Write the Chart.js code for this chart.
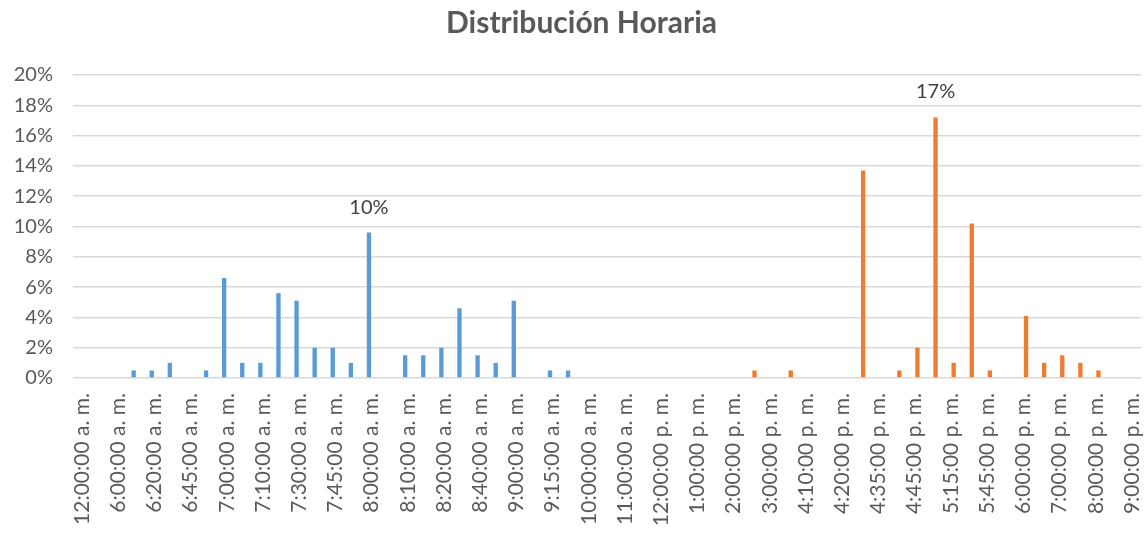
<!DOCTYPE html>
<html>
<head>
<meta charset="utf-8">
<script src="https://cdn.jsdelivr.net/npm/chart.js@4"></script>
<style>
  body { margin: 0; background: #fff; }
</style>
</head>
<body>
<canvas id="grafico" width="1147" height="533"></canvas>
<script>
// horas (categorias); solo las pares se muestran en el eje
const horas = [
  "12:00:00 a. m.", "5:30:00 a. m.", "6:00:00 a. m.", "6:10:00 a. m.", "6:20:00 a. m.",
  "6:30:00 a. m.", "6:45:00 a. m.", "6:50:00 a. m.", "7:00:00 a. m.", "7:05:00 a. m.",
  "7:10:00 a. m.", "7:20:00 a. m.", "7:30:00 a. m.", "7:40:00 a. m.", "7:45:00 a. m.",
  "7:50:00 a. m.", "8:00:00 a. m.", "8:05:00 a. m.", "8:10:00 a. m.", "8:15:00 a. m.",
  "8:20:00 a. m.", "8:30:00 a. m.", "8:40:00 a. m.", "8:50:00 a. m.", "9:00:00 a. m.",
  "9:10:00 a. m.", "9:15:00 a. m.", "9:30:00 a. m.", "10:00:00 a. m.", "10:30:00 a. m.",
  "11:00:00 a. m.", "11:30:00 a. m.", "12:00:00 p. m.", "12:30:00 p. m.", "1:00:00 p. m.",
  "1:30:00 p. m.", "2:00:00 p. m.", "2:30:00 p. m.", "3:00:00 p. m.", "3:30:00 p. m.",
  "4:10:00 p. m.", "4:15:00 p. m.", "4:20:00 p. m.", "4:30:00 p. m.", "4:35:00 p. m.",
  "4:40:00 p. m.", "4:45:00 p. m.", "5:00:00 p. m.", "5:15:00 p. m.", "5:30:00 p. m.",
  "5:45:00 p. m.", "5:50:00 p. m.", "6:00:00 p. m.", "6:30:00 p. m.", "7:00:00 p. m.",
  "7:30:00 p. m.", "8:00:00 p. m.", "8:30:00 p. m.", "9:00:00 p. m."
];

// porcentaje de entradas (mañana) y salidas (tarde)
const manana = [
  0, 0, 0, 0.5, 0.5, 1.0, 0, 0.5, 6.6, 1.0,
  1.0, 5.6, 5.1, 2.0, 2.0, 1.0, 9.6, 0, 1.5, 1.5,
  2.0, 4.6, 1.5, 1.0, 5.1, 0, 0.5, 0.5, 0, 0,
  0, 0, 0, 0, 0, 0, 0, 0, 0, 0,
  0, 0, 0, 0, 0, 0, 0, 0, 0, 0,
  0, 0, 0, 0, 0, 0, 0, 0, 0
];
const tarde = [
  0, 0, 0, 0, 0, 0, 0, 0, 0, 0,
  0, 0, 0, 0, 0, 0, 0, 0, 0, 0,
  0, 0, 0, 0, 0, 0, 0, 0, 0, 0,
  0, 0, 0, 0, 0, 0, 0, 0.5, 0, 0.5,
  0, 0, 0, 13.7, 0, 0.5, 2.0, 17.2, 1.0, 10.2,
  0.5, 0, 4.1, 1.0, 1.5, 1.0, 0.5, 0, 0
];

const titulo = "Distribución Horaria";
const gris = "#595959";

// etiqueta solo en el maximo de cada serie + titulo arriba
const etiquetas = {
  id: "etiquetas",
  afterDatasetsDraw(chart) {
    const ctx = chart.ctx;
    ctx.save();
    ctx.textAlign = "center";
    ctx.textBaseline = "middle";
    ctx.font = "bold 30px Lato";
    ctx.fillStyle = gris;
    ctx.fillText(titulo, chart.width / 2 + 8, 23);

    ctx.font = "20px Lato";
    ctx.fillStyle = "#404040";
    ctx.textBaseline = "alphabetic";
    chart.data.datasets.forEach((ds, i) => {
      let max = Math.max(...ds.data);
      let idx = ds.data.indexOf(max);
      let bar = chart.getDatasetMeta(i).data[idx];
      ctx.fillText(Math.round(max) + "%", bar.x, bar.y - 19);
    });
    ctx.restore();
  }
};

new Chart(document.getElementById("grafico"), {
  type: "bar",
  data: {
    labels: horas,
    datasets: [
      { label: "Mañana", data: manana, backgroundColor: "#5B9BD5" },
      { label: "Tarde", data: tarde, backgroundColor: "#ED7D31" }
    ]
  },
  options: {
    responsive: false,
    animation: false,
    categoryPercentage: 0.6,
    barPercentage: 0.8,
    layout: { padding: { left: 0, right: 6, top: 75, bottom: 0 } },
    plugins: {
      legend: { display: false },
      tooltip: { enabled: false },
      title: { display: false }
    },
    scales: {
      x: {
        grid: { display: false },
        border: { display: false },
        afterFit(scale) {
          scale.height = 155;
          // sin relleno extra por las etiquetas giradas
          scale.paddingLeft = 0;
          scale.paddingRight = 0;
        },
        ticks: {
          autoSkip: false,
          maxRotation: 90,
          minRotation: 90,
          padding: 7,
          color: gris,
          font: { family: "Lato", size: 21 },
          callback: function (v, i) { return i % 2 === 0 ? horas[i] : ""; }
        }
      },
      y: {
        min: 0,
        max: 20,
        border: { display: false },
        grid: { color: "#d9d9d9", lineWidth: 1.5, drawTicks: false },
        afterFit(scale) {
          scale.width = 73;
          scale.paddingTop = 0;
        },
        ticks: {
          stepSize: 2,
          padding: 20,
          color: gris,
          font: { family: "Lato", size: 20 },
          callback: v => v + "%"
        }
      }
    }
  },
  plugins: [etiquetas]
});
</script>
</body>
</html>
